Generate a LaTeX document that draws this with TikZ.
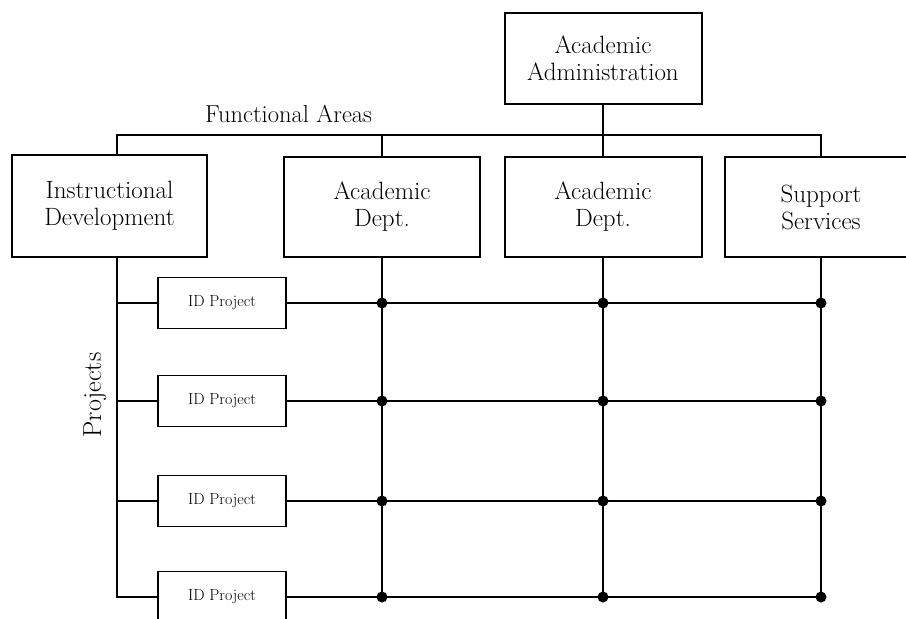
\documentclass[tikz,border=0pt]{standalone}
\usepackage{fontspec}
\begin{document}
\begin{tikzpicture}[x=1pt,y=-1pt,
  unitbox/.style={draw, line width=2pt, align=center, inner sep=0pt,
    font=\fontsize{25}{27}\selectfont},
  projbox/.style={draw, line width=1.8pt, inner sep=0pt,
    minimum width=128pt, minimum height=51pt,
    font=\fontsize{16}{18}\selectfont},
  link/.style={line width=2pt},
  joint/.style={circle, fill=black, inner sep=0pt, minimum size=11pt}]
\useasboundingbox (0,0) rectangle (906,619);

% top administration and the functional areas
\node[unitbox, minimum width=197pt, minimum height=91pt] (admin) at (603,58.5)
  {Academic\\Administration};
\node[unitbox, minimum width=195pt, minimum height=102pt] (idev) at (109.5,206)
  {Instructional\\Development};
\node[unitbox, minimum width=196pt, minimum height=100pt] (dept1) at (382,207)
  {Academic\\Dept.};
\node[unitbox, minimum width=197pt, minimum height=100pt] (dept2) at (603,207)
  {Academic\\Dept.};
\node[unitbox, minimum width=192pt, minimum height=100pt] (ss) at (821,207)
  {Support\\Services};

\node[anchor=base west, inner sep=0pt, font=\fontsize{24.5}{28}\selectfont] (fa) at (205,122)
  {Functional Areas};
\node[rotate=90, inner sep=0pt, font=\fontsize{26}{28}\selectfont] (proj) at (95,395) {Projects};

% reference lines
\coordinate (bus) at (0,134.5);
\coordinate (sx) at (117,0);
\coordinate (row1) at (0,303);
\coordinate (row2) at (0,401);
\coordinate (row3) at (0,501);
\coordinate (row4) at (0,597);

% project boxes
\node[projbox] (p1) at (222,303) {ID Project};
\node[projbox] (p2) at (222,401) {ID Project};
\node[projbox] (p3) at (222,501) {ID Project};
\node[projbox] (p4) at (222,597) {ID Project};

% functional areas bus
\draw[link] (idev.north -| sx) -- (sx |- bus) -- (bus -| ss.north) -- (ss.north);
\draw[link] (dept1.north) -- (dept1.north |- bus);
\draw[link] (admin.south) -- (dept2.north);

% projects spine
\draw[link] (idev.south -| sx) -- (sx |- row4) -- (p4.west);
\foreach \i in {1,2,3} \draw[link] (sx |- row\i) -- (p\i.west);

% matrix columns
\draw[link] (dept1.south) -- (dept1.south |- row4);
\draw[link] (dept2.south) -- (dept2.south |- row4);
\draw[link] (ss.south) -- (ss.south |- row4);

% matrix rows with joints
\foreach \i in {1,2,3,4} {
  \draw[link] (p\i.east) -- (ss.south |- p\i.east);
  \node[joint] (ja\i) at (dept1.south |- p\i.east) {};
  \node[joint] (jb\i) at (dept2.south |- p\i.east) {};
  \node[joint] (jc\i) at (ss.south |- p\i.east) {};
}
\end{tikzpicture}
\end{document}
